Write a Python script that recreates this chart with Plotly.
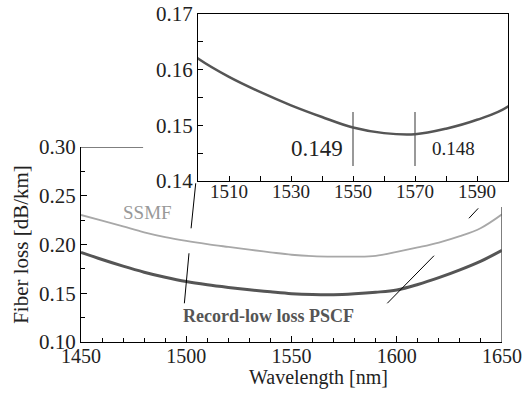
import plotly.graph_objects as go

# ---- data ----
wavelength = [1450, 1460, 1470, 1480, 1490, 1500, 1510, 1520, 1530, 1540, 1550,
              1560, 1570, 1580, 1590, 1600, 1610, 1620, 1630, 1640, 1650]
pscf_loss = [0.1920, 0.1846, 0.1778, 0.1716, 0.1664, 0.1620, 0.1587, 0.1560, 0.1536,
             0.1515, 0.1496, 0.1486, 0.1484, 0.1494, 0.1510, 0.1534, 0.1590, 0.1660,
             0.1740, 0.1830, 0.1940]
ssmf_loss = [0.2303, 0.2245, 0.2185, 0.2125, 0.2076, 0.2037, 0.2004, 0.1975, 0.1947,
             0.1920, 0.1895, 0.1881, 0.1876, 0.1876, 0.1884, 0.1925, 0.1970, 0.2020,
             0.2085, 0.2170, 0.2310]

main_xticks = [1450, 1500, 1550, 1600, 1650]
main_yticks = [0.10, 0.15, 0.20, 0.25, 0.30]
inset_xticks = [1510, 1530, 1550, 1570, 1590]
inset_yticks = [0.14, 0.15, 0.16, 0.17]
marked_wl = [1550, 1570]
marked_loss_text = ["0.149", "0.148"]

FONT = "Liberation Serif, Times New Roman, serif"
W, H = 524, 394

def px_x(a, b):
    return [a / W, b / W]

def px_y(top, bottom):
    return [1 - bottom / H, 1 - top / H]

fig = go.Figure()

fig.add_trace(go.Scatter(x=wavelength, y=ssmf_loss, mode="lines",
                         line=dict(color="#a8a8a8", width=1.8, shape="spline"),
                         xaxis="x", yaxis="y", showlegend=False))
fig.add_trace(go.Scatter(x=wavelength, y=pscf_loss, mode="lines",
                         line=dict(color="#555555", width=3, shape="spline"),
                         xaxis="x", yaxis="y", showlegend=False))
fig.add_trace(go.Scatter(x=wavelength, y=pscf_loss, mode="lines",
                         line=dict(color="#555555", width=2.5, shape="spline"),
                         xaxis="x2", yaxis="y2", showlegend=False, cliponaxis=True))

axis_common = dict(showline=True, linecolor="black", linewidth=1, ticks="inside",
                   tickcolor="black", showgrid=False, zeroline=False, automargin=False)

fig.update_layout(
    width=W, height=H,
    margin=dict(l=0, r=0, t=0, b=0, autoexpand=False),
    paper_bgcolor="white", plot_bgcolor="rgba(0,0,0,0)",
    font=dict(family=FONT, color="#222222"),
    xaxis=dict(domain=px_x(81, 502), range=[1450, 1650], anchor="y",
               tickvals=main_xticks, ticklen=6, ticklabelstandoff=-4,
               minor=dict(dtick=10, tick0=1450, ticklen=4, ticks="inside", tickcolor="black"),
               tickfont=dict(size=20, family=FONT, color="#222222"),
               **axis_common),
    yaxis=dict(domain=px_y(147, 342), range=[0.10, 0.30], anchor="x",
               tickvals=main_yticks, tickformat=".2f", ticklen=6,
               minor=dict(dtick=0.025, tick0=0.10, ticklen=4, ticks="inside", tickcolor="black"),
               tickfont=dict(size=21, family=FONT, color="#222222"),
               title=dict(text="Fiber loss [dB/km]", font=dict(size=21, family=FONT, color="#222222"),
                          standoff=4),
               **axis_common),
    xaxis2=dict(domain=px_x(198, 508), range=[1500, 1600], anchor="y2",
                tickvals=inset_xticks, ticklen=5, mirror=True, ticklabelstandoff=-7,
                minor=dict(dtick=10, tick0=1500, ticklen=5, ticks="inside", tickcolor="black"),
                tickfont=dict(size=19, family=FONT, color="#222222"),
                **axis_common),
    yaxis2=dict(domain=px_y(14, 181), range=[0.14, 0.17], anchor="x2",
                tickvals=inset_yticks, tickformat=".2f", ticklen=5, mirror=True,
                minor=dict(dtick=0.005, tick0=0.14, ticklen=5, ticks="inside", tickcolor="black"),
                tickfont=dict(size=21, family=FONT, color="#222222"),
                **axis_common),
)

shapes = []
# partial top spine and right spine of the main plot
shapes.append(dict(type="line", xref="x", yref="y", x0=1450, x1=1479.5, y0=0.30, y1=0.30,
                   line=dict(color="black", width=1)))
shapes.append(dict(type="line", xref="x", yref="y", x0=1650, x1=1650, y0=0.10, y1=0.2385,
                   line=dict(color="#555555", width=1.5)))
# connector lines (zoom indicators), with gaps where they cross the SSMF curve
for (xa, ya, xb, yb) in [(1499.1, 0.1397, 1501.3, 0.1910),
                         (1502.3, 0.2166, 1504.5, 0.2628),
                         (1595.5, 0.1397, 1617.7, 0.1885),
                         (1634.3, 0.2269, 1638.7, 0.2371)]:
    shapes.append(dict(type="line", xref="x", yref="y", x0=xa, x1=xb, y0=ya, y1=yb,
                       line=dict(color="black", width=1)))
# vertical markers in inset
for wl in marked_wl:
    shapes.append(dict(type="line", xref="x2", yref="y2", x0=wl, x1=wl, y0=0.1427, y1=0.1524,
                       line=dict(color="#555555", width=1.2)))
fig.update_layout(shapes=shapes)

annotations = [
    dict(text="Wavelength [nm]", x=318.5 / W, y=1 - 377 / H, xref="paper", yref="paper",
         xanchor="center", yanchor="middle", showarrow=False,
         font=dict(size=20, family=FONT, color="#222222")),
    dict(text="SSMF", x=1481.6, y=0.2328, xref="x", yref="y", showarrow=False,
         font=dict(size=19, family=FONT, color="#999999")),
    dict(text="<b>Record-low loss PSCF</b>", x=1539.3, y=0.1262, xref="x", yref="y",
         showarrow=False, font=dict(size=18, family=FONT, color="#555555")),
    dict(text=marked_loss_text[0], x=marked_wl[0] - 2.5, y=0.1459, xref="x2", yref="y2",
         xanchor="right", showarrow=False, font=dict(size=23, family=FONT, color="#222222")),
    dict(text=marked_loss_text[1], x=marked_wl[1] + 4.8, y=0.1459, xref="x2", yref="y2",
         xanchor="left", showarrow=False, font=dict(size=19, family=FONT, color="#222222")),
]
fig.update_layout(annotations=annotations)

fig.write_html("out.html", config={"displayModeBar": False},
               post_script="document.body.style.margin='0';document.body.style.overflow='hidden';")
